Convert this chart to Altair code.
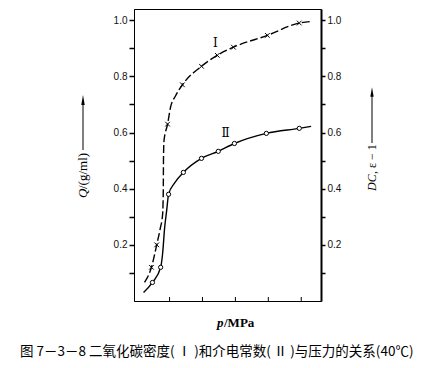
import altair as alt
import pandas as pd

# ---- data ----
# Curve I (density, dashed) path and marker points
p_I_curve = [24, 45, 61, 72, 79, 81, 81.5, 83, 94, 103, 118, 139, 197, 245, 294, 397, 494, 533]
v_I_curve = [0.066, 0.12, 0.20, 0.26, 0.31, 0.40, 0.50, 0.57, 0.63, 0.69, 0.73, 0.77, 0.836, 0.875, 0.904, 0.946, 0.99, 0.996]
p_I_pts = [45, 61, 94, 139, 197, 245, 294, 397, 494]
v_I_pts = [0.12, 0.20, 0.63, 0.77, 0.836, 0.875, 0.904, 0.946, 0.99]

# Curve II (dielectric constant, solid) path and marker points
p_II_curve = [21, 48, 73, 79, 85, 91, 97, 115, 142, 197, 248, 297, 394, 494, 530]
v_II_curve = [0.03, 0.066, 0.12, 0.17, 0.26, 0.32, 0.38, 0.42, 0.458, 0.508, 0.533, 0.561, 0.597, 0.615, 0.622]
p_II_pts = [48, 73, 97, 142, 197, 248, 297, 394, 494]
v_II_pts = [0.066, 0.12, 0.38, 0.458, 0.508, 0.533, 0.561, 0.597, 0.615]

curve_labels = ["Ⅰ", "Ⅱ"]
label_p = [239, 270]
label_v = [0.918, 0.597]

x_ticks = [100, 200, 300, 400, 500]
y_ticks = [0.1, 0.2, 0.3, 0.4, 0.5, 0.6, 0.7, 0.8, 0.9, 1.0]

caption = "图 7－3－8   二氧化碳密度( Ⅰ )和介电常数( Ⅱ )与压力的关系(40℃)"

# ---- tables ----
dfI = pd.DataFrame({"p": p_I_curve, "v": v_I_curve})
dfIp = pd.DataFrame({"p": p_I_pts, "v": v_I_pts})
dfII = pd.DataFrame({"p": p_II_curve, "v": v_II_curve})
dfIIp = pd.DataFrame({"p": p_II_pts, "v": v_II_pts})
dfLab = pd.DataFrame({"p": label_p, "v": label_v, "t": curve_labels})
dfTicks = pd.DataFrame({"p": x_ticks})
one = pd.DataFrame({"a": [0]})

W, H = 187, 292
xscale = alt.Scale(domain=[-8, 560], nice=False, zero=False)
yscale = alt.Scale(domain=[0, 1.04], nice=False, zero=True)

lab_font = "Liberation Sans"
y_label_expr = "round(datum.value*10) % 2 == 0 ? format(datum.value, '.1f') : ''"

x_axis = alt.Axis(values=x_ticks, labelExpr="(datum.value == 200 || datum.value == 400) ? '' : datum.label",
                  ticks=False, title=None, domainColor="black", domainWidth=1, labelOverlap=False,
                  labelFont=lab_font, labelFontSize=10, labelColor="#111", labelPadding=2, grid=False)
left_axis = alt.Axis(values=y_ticks, labelExpr=y_label_expr, orient="left", ticks=True, tickSize=5,
                     tickWidth=1.5, tickColor="black", labelOverlap=False,
                     domainColor="black", labelFont=lab_font, labelFontSize=10, labelColor="#111",
                     labelPadding=2, title=None, grid=False)
right_axis = alt.Axis(values=y_ticks, labelExpr=y_label_expr, orient="right", ticks=True, tickSize=4,
                      tickWidth=1.5, tickColor="black", labelOverlap=False,
                      domainColor="black", domainWidth=2, labelFont=lab_font, labelFontSize=10,
                      labelColor="#111", labelPadding=2, title=None, grid=False)

X = alt.X("p:Q", scale=xscale, axis=x_axis)
Y = alt.Y("v:Q", scale=yscale, axis=left_axis)

line_I = alt.Chart(dfI).mark_line(color="black", strokeWidth=1.4, strokeDash=[8, 3],
                                  interpolate="monotone").encode(x=X, y=Y)
pts_I = alt.Chart(dfIp).mark_point(shape="M-1,-1L1,1M-1,1L1,-1", size=22, filled=False,
                                   color="black", strokeWidth=1, opacity=1).encode(x=X, y=Y)
line_II = alt.Chart(dfII).mark_line(color="black", strokeWidth=1.4,
                                    interpolate="monotone").encode(x=X, y=Y)
pts_II = alt.Chart(dfIIp).mark_point(shape="circle", size=18, filled=True, fill="white",
                                     stroke="black", strokeWidth=1, opacity=1).encode(x=X, y=Y)
labels = alt.Chart(dfLab).mark_text(font="DejaVu Serif", fontSize=12, color="black",
                                    baseline="middle", align="center").encode(x=X, y=Y, text="t:N")
xticks_in = alt.Chart(dfTicks).mark_rule(color="black", strokeWidth=1).encode(
    x=alt.X("p:Q", scale=xscale, axis=None), y=alt.value(H - 4), y2=alt.value(H))

serif = "Liberation Serif"
# left axis title with arrow
lt_q = alt.Chart(one).mark_text(text="Q", angle=270, align="left", baseline="middle", font=serif,
                                fontStyle="italic", fontSize=13, color="black").encode(
    x=alt.value(-51), y=alt.value(189))
lt_u = alt.Chart(one).mark_text(text="/(g/ml)", angle=270, align="left", baseline="middle", font=serif,
                                fontSize=13, color="black").encode(x=alt.value(-51), y=alt.value(180))
lt_rule = alt.Chart(one).mark_rule(color="black", strokeWidth=1).encode(
    x=alt.value(-51), y=alt.value(92), y2=alt.value(141))
lt_head = alt.Chart(one).mark_point(shape="M0,-1L0.35,1L-0.35,1Z", size=100, filled=True,
                                    color="black", opacity=1).encode(x=alt.value(-51), y=alt.value(91))

# right axis title with arrow
rt_dc = alt.Chart(one).mark_text(text="DC", angle=270, align="left", baseline="middle", font=serif,
                                 fontStyle="italic", fontSize=12, color="black").encode(
    x=alt.value(238), y=alt.value(182))
rt_e = alt.Chart(one).mark_text(text=", ε − 1", angle=270, align="left", baseline="middle", font=serif,
                                fontSize=12, color="black").encode(x=alt.value(238), y=alt.value(165))
rt_rule = alt.Chart(one).mark_rule(color="black", strokeWidth=1).encode(
    x=alt.value(238), y=alt.value(84), y2=alt.value(134))
rt_head = alt.Chart(one).mark_point(shape="M0,-1L0.35,1L-0.35,1Z", size=90, filled=True,
                                    color="black", opacity=1).encode(x=alt.value(238), y=alt.value(83))

# x title
xt_p = alt.Chart(one).mark_text(text="p", align="left", baseline="middle", font=serif,
                                fontStyle="italic", fontSize=13, fontWeight="bold", color="black").encode(
    x=alt.value(83), y=alt.value(314))
xt_u = alt.Chart(one).mark_text(text="/MPa", align="left", baseline="middle", font=serif,
                                fontSize=13, fontWeight="bold", color="black").encode(
    x=alt.value(90), y=alt.value(314))

cap = alt.Chart(one).mark_text(text=caption, align="left", baseline="middle", font="Noto Sans CJK SC",
                               fontSize=13.5, color="black").encode(x=alt.value(-114), y=alt.value(343))

main = alt.layer(line_I, line_II, pts_I, pts_II, labels, xticks_in,
                 lt_q, lt_u, lt_rule, lt_head, rt_dc, rt_e, rt_rule, rt_head, xt_p, xt_u, cap)

right = alt.Chart(dfIIp).mark_point(opacity=0).encode(
    x=alt.X("p:Q", scale=xscale, axis=None),
    y=alt.Y("v:Q", scale=yscale, axis=right_axis))

chart = alt.layer(main, right).resolve_scale(y="independent").properties(
    width=W, height=H,
    autosize=alt.AutoSizeParams(type="none"),
    padding={"left": 126, "top": 1, "right": 100, "bottom": 59},
    background="white",
).configure_view(stroke="black", strokeWidth=1).configure_axis(grid=False)

chart.save("out.html", embed_options={"renderer": "svg", "actions": False})
